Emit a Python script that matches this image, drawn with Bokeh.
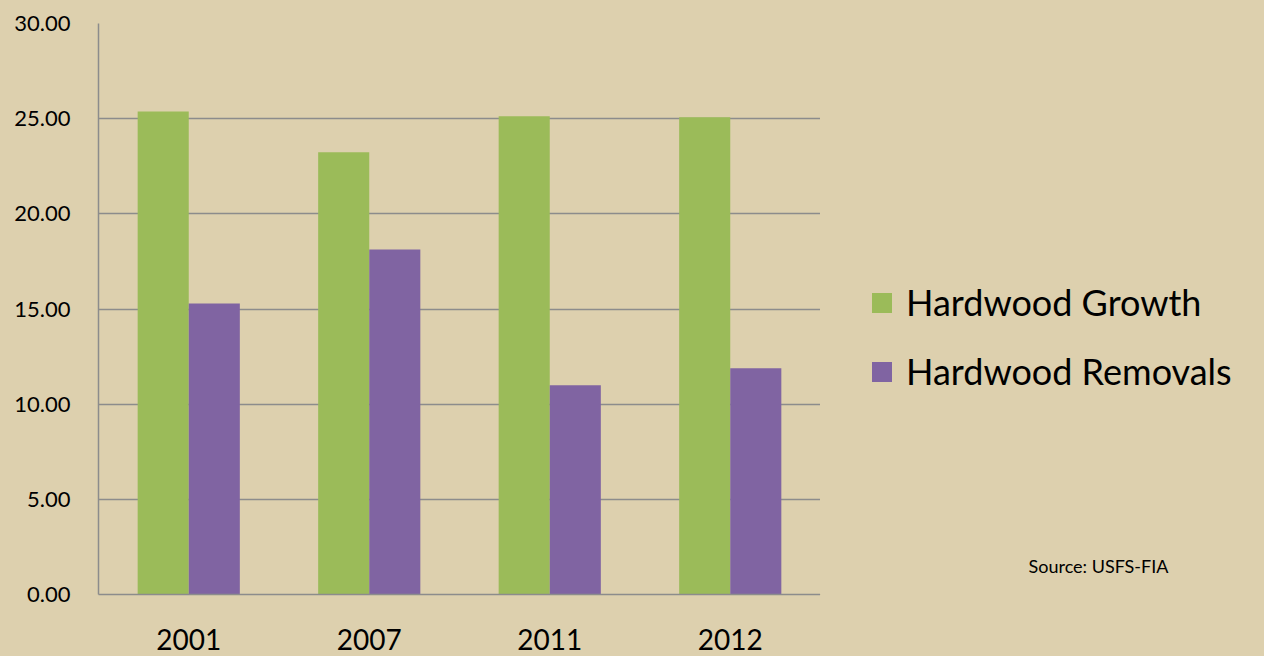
from bokeh.plotting import figure
from bokeh.layouts import row
from bokeh.models import (ColumnDataSource, Range1d, FixedTicker, NumeralTickFormatter,
                          Legend, LegendItem, Label)
from bokeh.transform import dodge
from bokeh.embed import file_html
from bokeh.resources import INLINE

years = ["2001", "2007", "2011", "2012"]
growth = [25.38, 23.24, 25.13, 25.08]
removals = [15.29, 18.13, 11.00, 11.89]
y_ticks = [0, 5, 10, 15, 20, 25, 30]
series_names = ["Hardwood Growth", "Hardwood Removals"]
source_note = "Source: USFS-FIA"

BG = "#DDD0AE"
GREEN = "#9BBB59"
PURPLE = "#8064A2"
GRID = "#8C8C8C"
FONT = "Lato"

src = ColumnDataSource(dict(year=years, growth=growth, removals=removals))

# ---- main chart ----
p = figure(x_range=years, y_range=Range1d(0, 30), width=820, height=656,
           output_backend="svg", toolbar_location=None,
           min_border_left=98, min_border_right=0, min_border_top=23, min_border_bottom=62)
p.background_fill_color = BG
p.border_fill_color = BG
p.outline_line_color = None

bw = 0.283
p.vbar(x=dodge("year", -bw / 2, range=p.x_range), top="growth", width=bw,
       source=src, fill_color=GREEN, line_color=None)
p.vbar(x=dodge("year", bw / 2, range=p.x_range), top="removals", width=bw,
       source=src, fill_color=PURPLE, line_color=None)

p.xgrid.grid_line_color = None
p.ygrid.grid_line_color = GRID
p.ygrid.grid_line_width = 1.5
p.yaxis.ticker = FixedTicker(ticks=y_ticks)
p.yaxis.formatter = NumeralTickFormatter(format="0.00")

for ax in (p.xaxis[0], p.yaxis[0]):
    ax.axis_line_color = GRID
    ax.axis_line_width = 1.5
    ax.major_tick_line_color = None
    ax.minor_tick_line_color = None
    ax.major_tick_out = 0
    ax.major_tick_in = 0
    ax.minor_tick_out = 0
    ax.minor_tick_in = 0
    ax.major_label_text_font = FONT
    ax.major_label_text_color = "black"

p.yaxis.major_label_text_font_size = "22px"
p.yaxis.major_label_standoff = 28
p.xaxis.major_label_text_font_size = "28px"
p.xaxis.major_label_standoff = 34

# ---- legend / note panel (frame aligned with the chart's frame) ----
q = figure(x_range=Range1d(0, 444), y_range=Range1d(62, 633), width=444, height=656,
           output_backend="svg", toolbar_location=None,
           min_border_left=0, min_border_right=0, min_border_top=23, min_border_bottom=62)
q.background_fill_color = BG
q.border_fill_color = BG
q.outline_line_color = None
q.axis.visible = False
q.grid.visible = False

dummy = ColumnDataSource(dict(x=[-1000], top=[-1000]))
g1 = q.vbar(x="x", top="top", width=1, source=dummy, fill_color=GREEN, line_color=None)
g2 = q.vbar(x="x", top="top", width=1, source=dummy, fill_color=PURPLE, line_color=None)

legend = Legend(items=[LegendItem(label=series_names[0], renderers=[g1]),
                       LegendItem(label=series_names[1], renderers=[g2])],
                location=(49, 201), orientation="vertical",
                glyph_width=25, glyph_height=25, label_height=25,
                spacing=25, label_standoff=12, padding=0, margin=0,
                border_line_color=None, background_fill_alpha=0,
                label_text_font=FONT, label_text_font_size="36px",
                label_text_color="black")
q.add_layout(legend, "center")

q.add_layout(Label(x=208, y=656 - 565, text=source_note, text_font=FONT,
                   text_font_size="18px", text_baseline="middle", text_color="black"))

layout = row(p, q, spacing=0)
html = file_html(layout, INLINE)
html = html.replace("</head>", "<style>html, body { background: %s !important; }</style></head>" % BG, 1)
open("out.html", "w").write(html)
